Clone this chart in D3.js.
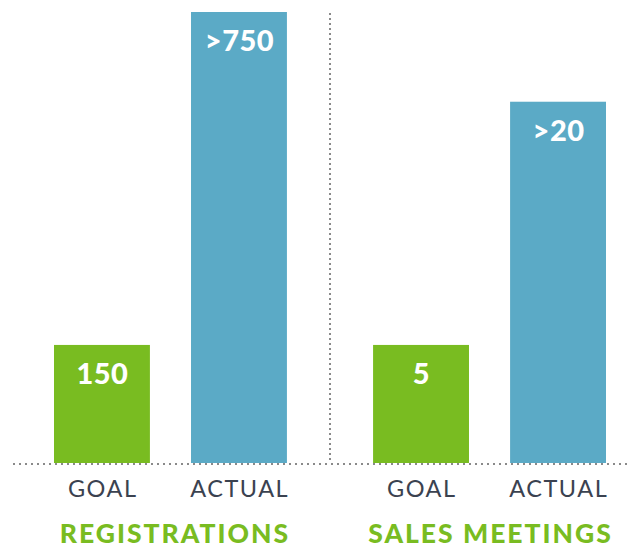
<!doctype html>
<html>
  <head>
    <meta charset="utf-8">
    <title>Goal vs Actual</title>
    <script src="https://cdn.jsdelivr.net/npm/d3@7"></script>
    <style>
      body { margin: 0; background: #fff; }
      text { font-family: Lato, "Open Sans", sans-serif; }
    </style>
  </head>
  <body>
    <script>
      const groups = ['REGISTRATIONS', 'SALES MEETINGS'];
      const kinds = ['GOAL', 'ACTUAL'];
      // printed values on the bars
      const goalLabels = ['150', '5'];
      const actualLabels = ['>750', '>20'];
      // bar heights as drawn, relative to the goal bar (goal = 1)
      const goalIndex = [1, 1];
      const actualIndex = [3.82, 3.06];

      const data = groups.map((g, i) => [
        { group: g, kind: 'GOAL', value: goalIndex[i], label: goalLabels[i] },
        { group: g, kind: 'ACTUAL', value: actualIndex[i], label: actualLabels[i] }
      ]);

      const svgWidth = 629;
      const svgHeight = 548;
      const plot = { left: 54, right: 606, top: 12, bottom: 463 };
      const colors = { GOAL: '#79bc21', ACTUAL: '#5baac6' };

      const svg = d3.select('body').append('svg')
          .attr('width', svgWidth)
          .attr('height', svgHeight);

      const x0 = d3.scaleBand()
          .domain(groups)
          .range([plot.left, plot.right])
          .paddingInner(0.27)
          .paddingOuter(0);

      const x1 = d3.scaleBand()
          .domain(kinds)
          .range([0, x0.bandwidth()])
          .paddingInner(0.3)
          .paddingOuter(0);

      const y = d3.scaleLinear()
          .domain([0, d3.max(actualIndex.concat(goalIndex))])
          .range([plot.bottom, plot.top]);

      // divider between the two groups
      const midX = (x0(groups[0]) + x0.bandwidth() + x0(groups[1])) / 2;
      svg.append('line')
          .attr('x1', midX).attr('x2', midX)
          .attr('y1', plot.top + 1).attr('y2', plot.bottom)
          .attr('stroke', '#8a8a8a')
          .attr('stroke-width', 2)
          .attr('stroke-dasharray', '2 3');

      const gGroup = svg.selectAll('g.group')
        .data(data)
        .enter().append('g')
          .attr('class', 'group')
          .attr('transform', d => `translate(${x0(d[0].group)}, 0)`);

      gGroup.selectAll('rect')
        .data(d => d)
        .enter().append('rect')
          .attr('x', d => x1(d.kind))
          .attr('y', d => y(d.value))
          .attr('width', x1.bandwidth())
          .attr('height', d => y(0) - y(d.value))
          .attr('fill', d => colors[d.kind]);

      // values inside the bars
      gGroup.selectAll('text.value')
        .data(d => d)
        .enter().append('text')
          .attr('class', 'value')
          .attr('x', d => x1(d.kind) + x1.bandwidth() / 2 + 0.5)
          .attr('y', d => y(d.value) + 39)
          .attr('text-anchor', 'middle')
          .attr('fill', '#fff')
          .attr('font-weight', 900)
          .attr('font-size', 29)
          .attr('letter-spacing', 0.5)
          .text(d => d.label);

      // GOAL / ACTUAL labels
      gGroup.selectAll('text.kind')
        .data(d => d)
        .enter().append('text')
          .attr('class', 'kind')
          .attr('x', d => x1(d.kind) + x1.bandwidth() / 2 + 0.75)
          .attr('y', 497)
          .attr('text-anchor', 'middle')
          .attr('fill', '#3b4250')
          .attr('font-size', 23.5)
          .attr('letter-spacing', 1.5)
          .text(d => d.kind);

      // group titles
      gGroup.append('text')
          .attr('x', (d, i) => x0.bandwidth() / 2 + (i === 0 ? 4.5 : 1))
          .attr('y', 543)
          .attr('text-anchor', 'middle')
          .attr('fill', '#79bc21')
          .attr('font-weight', 900)
          .attr('font-size', 26.5)
          .attr('letter-spacing', 2)
          .text(d => d[0].group);

      // baseline
      svg.append('line')
          .attr('x1', 13).attr('x2', 627)
          .attr('y1', plot.bottom + 1).attr('y2', plot.bottom + 1)
          .attr('stroke', '#8a8a8a')
          .attr('stroke-width', 2)
          .attr('stroke-dasharray', '2 4');
    </script>
  </body>
</html>
